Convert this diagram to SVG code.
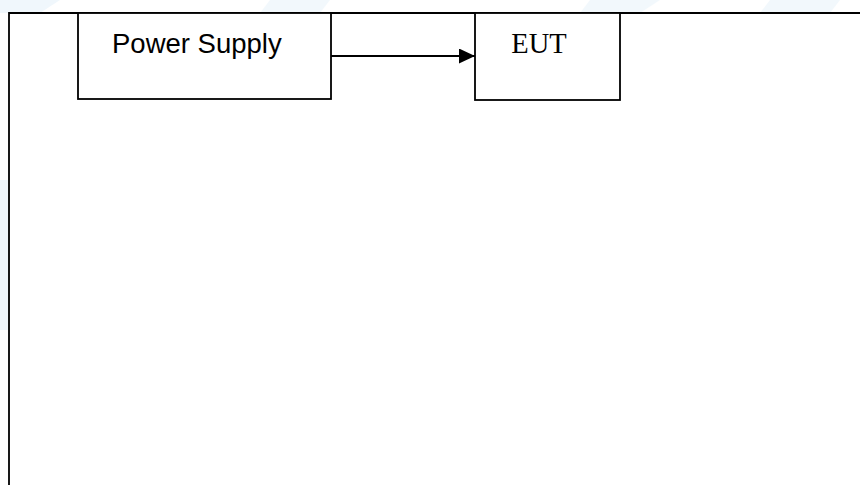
<svg xmlns="http://www.w3.org/2000/svg" width="860" height="485" viewBox="0 0 860 485">
  <style>
    .box { fill: #ffffff; stroke: #000000; stroke-width: 1.8; }
    .frame { fill: #ffffff; stroke: #000000; stroke-width: 1.8; }
    .conn { stroke: #000000; stroke-width: 1.8; fill: none; }
    .sans { font-family: "Liberation Sans", Arial, sans-serif; font-size: 27.5px; fill: #000000; }
    .serif { font-family: "Liberation Serif", "Times New Roman", serif; font-size: 28.5px; fill: #000000; }
    .wm { fill: #e6f2fa; }
  </style>
  <defs>
    <marker id="arrow" markerWidth="16" markerHeight="15" refX="16" refY="7.5" orient="auto" markerUnits="userSpaceOnUse">
      <path d="M0,0 L16,7.5 L0,15 Z" fill="#000000"/>
    </marker>
  </defs>
  <rect x="0" y="0" width="860" height="485" fill="#ffffff"/>
  <g id="watermark">
    <path class="wm" d="M0,0 H60 L40,13 H0 Z" opacity="0.6"/>
    <path class="wm" d="M0,180 H9 V330 H0 Z" opacity="0.6"/>
    <path class="wm" d="M270,0 H330 L320,13 H260 Z" opacity="0.5"/>
    <path class="wm" d="M590,0 H660 L640,13 H580 Z" opacity="0.5"/>
    <path class="wm" d="M770,0 H840 L830,13 H760 Z" opacity="0.5"/>
  </g>
  <g id="frame">
    <path class="frame" d="M9,486 V13 H861"/>
  </g>
  <g id="power-supply">
    <rect class="box" x="78" y="13" width="253" height="86"/>
    <text class="sans" x="112" y="53">Power Supply</text>
  </g>
  <g id="eut">
    <rect class="box" x="475" y="13" width="145" height="87"/>
    <text class="serif" x="539" y="53" text-anchor="middle">EUT</text>
  </g>
  <g id="connectors">
    <line class="conn" x1="331" y1="56" x2="475" y2="56" marker-end="url(#arrow)"/>
  </g>
</svg>
